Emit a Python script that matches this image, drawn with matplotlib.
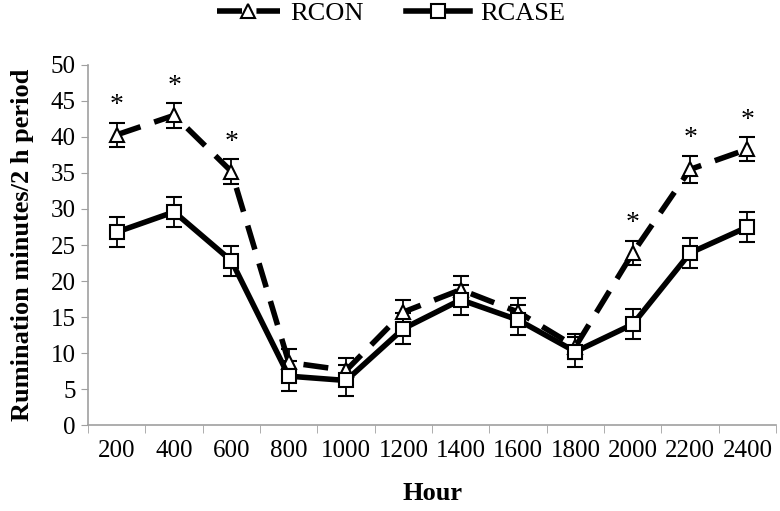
import matplotlib.pyplot as plt
from matplotlib.lines import Line2D
import numpy as np

plt.rcParams['font.family'] = ['Liberation Serif', 'DejaVu Serif']

hours = ['200', '400', '600', '800', '1000', '1200', '1400', '1600', '1800', '2000', '2200', '2400']
rcon = [40.3, 43.0, 35.2, 8.7, 7.6, 15.7, 18.8, 15.7, 10.9, 23.9, 35.5, 38.3]
rcon_se = [1.7, 1.7, 1.7, 1.9, 1.7, 1.7, 1.9, 1.9, 1.7, 1.7, 1.9, 1.7]
rcase = [26.8, 29.6, 22.8, 6.8, 6.2, 13.4, 17.4, 14.6, 10.2, 14.0, 23.9, 27.5]
rcase_se = [2.1, 2.1, 2.1, 2.1, 2.1, 2.1, 2.1, 2.1, 2.1, 2.1, 2.1, 2.1]
signif = [True, True, True, False, False, False, False, False, False, True, True, True]

x = np.arange(len(hours))

fig = plt.figure(figsize=(7.8, 5.11), dpi=100)
ax = fig.add_axes([0.113, 0.168, 0.882, 0.705])

con_style = dict(color='black', lw=4, dashes=(4.5, 2.6), marker='^', ms=10,
                 mfc='white', mec='black', mew=1.5)
case_style = dict(color='black', lw=4, marker='s', ms=10,
                  mfc='white', mec='black', mew=1.5)

ax.errorbar(x, rcon, yerr=rcon_se, ecolor='black', elinewidth=1.3, capsize=6,
            capthick=1.3, **con_style)
ax.errorbar(x, rcase, yerr=rcase_se, ecolor='black', elinewidth=1.3, capsize=6,
            capthick=1.3, **case_style)

for xi, v, se, s in zip(x, rcon, rcon_se, signif):
    if s:
        ax.text(xi, v + se + 0.6, '*', ha='center', va='bottom', fontsize=20)

ax.set_xlim(-0.5, len(hours) - 0.5)
ax.set_ylim(0, 50)
ax.set_yticks(np.arange(0, 51, 5))
ax.set_xticks(x)
ax.set_xticklabels(hours)
ax.set_xticks(np.arange(-0.5, len(hours), 1), minor=True)
ax.tick_params(axis='x', which='major', length=0, labelsize=18, pad=11)
ax.tick_params(axis='x', which='minor', length=6, color='#a0a0a0')
ax.tick_params(axis='y', length=5, color='#a0a0a0', labelsize=18, pad=4)

for side in ['top', 'right']:
    ax.spines[side].set_visible(False)
for side in ['left', 'bottom']:
    ax.spines[side].set_color('#a0a0a0')
    ax.spines[side].set_linewidth(1.2)

ax.set_xlabel('Hour', fontsize=19, fontweight='bold', labelpad=14)
ax.set_ylabel('Rumination minutes/2 h period', fontsize=19, fontweight='bold', labelpad=12)

handles = [Line2D([], [], **con_style), Line2D([], [], **case_style)]
ax.legend(handles, ['RCON', 'RCASE'], loc='lower center', bbox_to_anchor=(0.44, 1.045),
          ncol=2, frameon=False, fontsize=19, handlelength=2.4, columnspacing=1.6,
          handletextpad=0.4)

fig.savefig('out.png', dpi=100)
